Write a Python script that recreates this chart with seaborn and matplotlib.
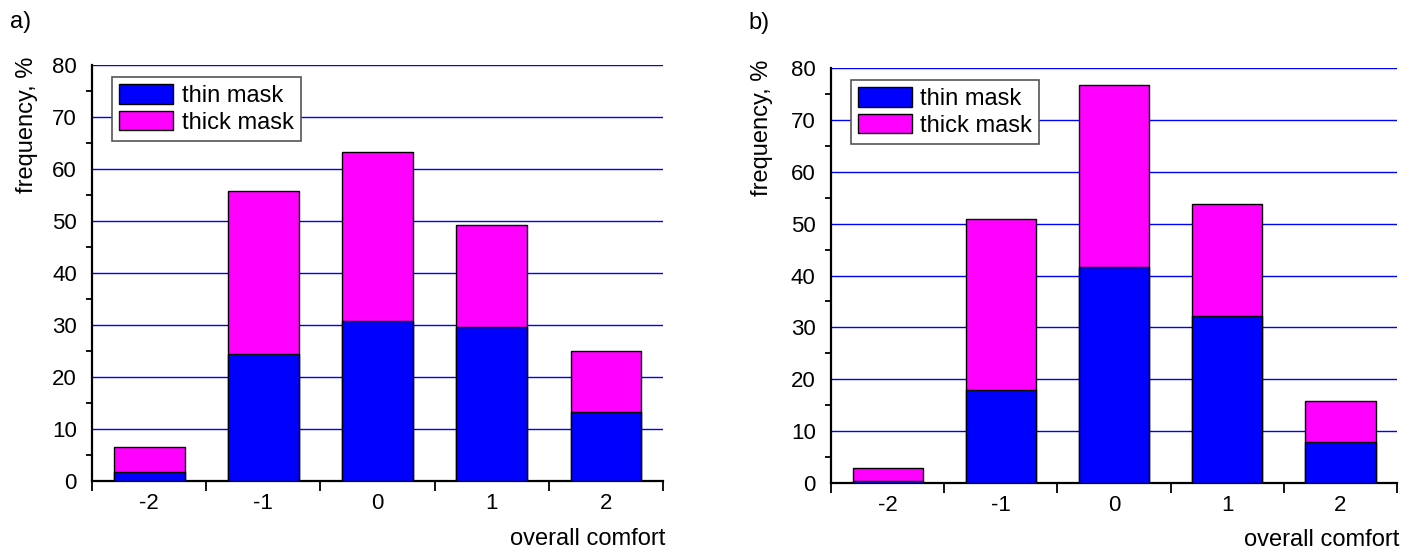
import matplotlib

matplotlib.use("Agg")

import matplotlib.pyplot as plt
import pandas as pd
import seaborn as sns
from matplotlib.patches import Patch
from matplotlib.ticker import MultipleLocator, FixedLocator

COMFORT = ["-2", "-1", "0", "1", "2"]

THIN_A = [1.7, 24.5, 30.8, 29.6, 13.3]
THICK_A = [4.9, 31.3, 32.5, 19.6, 11.7]

THIN_B = [0.4, 17.9, 41.6, 32.1, 7.9]
THICK_B = [2.5, 32.9, 35.1, 21.6, 7.9]

BLUE = "#0000ff"
MAGENTA = "#ff00ff"
FONT = ["Liberation Sans", "DejaVu Sans"]


def draw_panel(ax, thin, thick, ylab_x):
    df = pd.DataFrame({"comfort": COMFORT, "thin": thin, "thick": thick})
    df["total"] = df["thin"] + df["thick"]

    # stacked: total bar underneath, thin bar drawn over it
    sns.barplot(data=df, x="comfort", y="total", color=MAGENTA, saturation=1,
                width=0.62, edgecolor="black", linewidth=1, ax=ax, zorder=3)
    sns.barplot(data=df, x="comfort", y="thin", color=BLUE, saturation=1,
                width=0.62, edgecolor="black", linewidth=1, ax=ax, zorder=4)

    ax.set_xlim(-0.5, 4.5)
    ax.set_ylim(0, 80)
    ax.yaxis.set_major_locator(MultipleLocator(10))
    ax.yaxis.set_minor_locator(MultipleLocator(5))
    ax.xaxis.set_minor_locator(FixedLocator([-0.5, 0.5, 1.5, 2.5, 3.5, 4.5]))

    ax.grid(axis="y", which="major", color=BLUE, linewidth=1, zorder=0)
    ax.grid(axis="x", visible=False)
    ax.set_axisbelow(True)

    for side in ("top", "right"):
        ax.spines[side].set_visible(False)
    for side in ("left", "bottom"):
        ax.spines[side].set_color("black")
        ax.spines[side].set_linewidth(1.6)

    ax.tick_params(axis="y", which="major", length=7, width=1.3, labelsize=16, pad=4)
    ax.tick_params(axis="y", which="minor", length=4, width=1.3, left=True)
    ax.tick_params(axis="x", which="major", length=7, width=1.3, labelsize=16, pad=1.5)
    ax.tick_params(axis="x", which="minor", length=7, width=1.3, bottom=True)

    ax.set_ylabel("frequency, %", fontsize=17, loc="top")
    ax.yaxis.set_label_coords(ylab_x, 1.02)
    ax.set_xlabel("overall comfort", fontsize=17, loc="right")
    ax.xaxis.set_label_coords(1.004, -0.112)

    handles = [Patch(facecolor=BLUE, edgecolor="black", label="thin mask"),
               Patch(facecolor=MAGENTA, edgecolor="black", label="thick mask")]
    leg = ax.legend(handles=handles, loc="upper left", bbox_to_anchor=(0.035, 0.971),
                    fontsize=17, frameon=True, fancybox=False, framealpha=1,
                    edgecolor="#555555", handlelength=2.3, handleheight=0.9,
                    handletextpad=0.35, borderpad=0.3, labelspacing=0.15,
                    borderaxespad=0)
    leg.get_frame().set_linewidth(1.2)


sns.set_theme(style="white")
plt.rcParams["font.family"] = FONT
plt.rcParams["text.color"] = "black"
plt.rcParams["axes.labelcolor"] = "black"
plt.rcParams["xtick.color"] = "black"
plt.rcParams["ytick.color"] = "black"

fig = plt.figure(figsize=(14.14, 5.52), dpi=100)
ax_a = fig.add_axes([0.0651, 0.1286, 0.4038, 0.7536])
ax_b = fig.add_axes([0.5877, 0.1250, 0.4003, 0.7518])

draw_panel(ax_a, THIN_A, THICK_A, -0.095)
draw_panel(ax_b, THIN_B, THICK_B, -0.102)

fig.text(0.007, 0.96, "a)", fontsize=17, ha="left", va="center")
fig.text(0.529, 0.958, "b)", fontsize=17, ha="left", va="center")

fig.savefig("out.png", dpi=100)
plt.close(fig)
